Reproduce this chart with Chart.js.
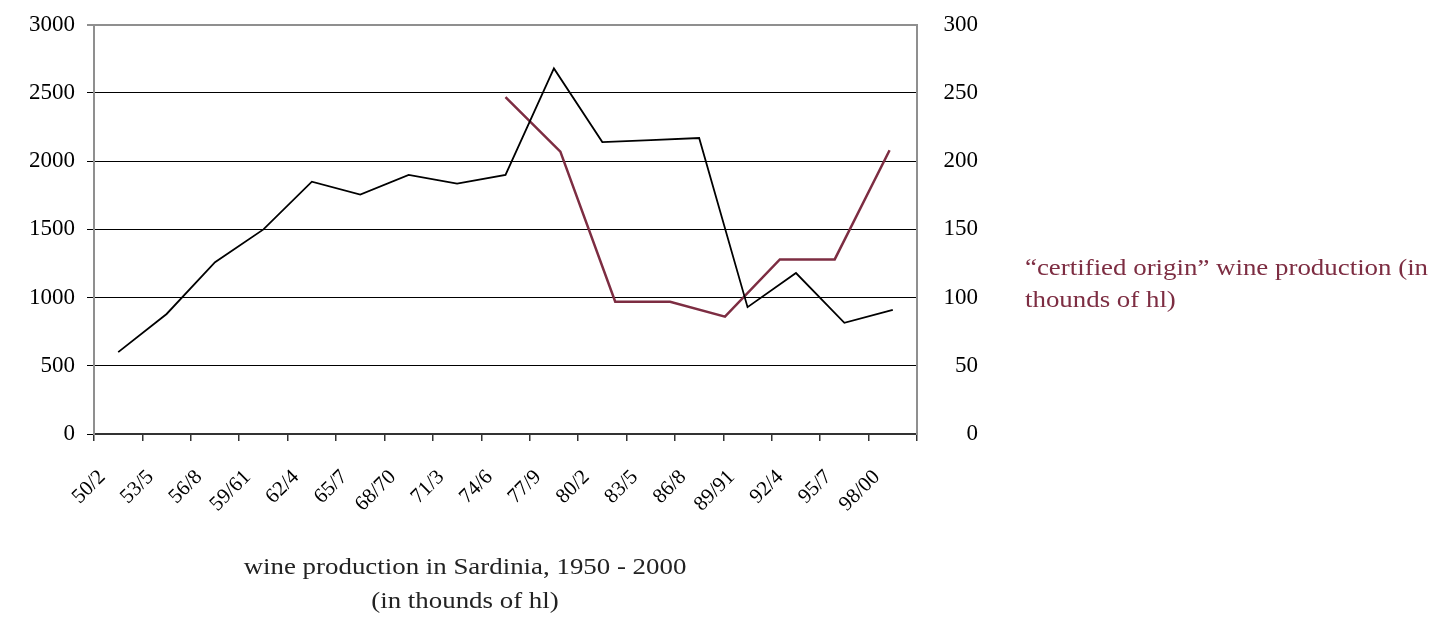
<!DOCTYPE html>
<html>
<head>
<meta charset="utf-8">
<script src="https://cdn.jsdelivr.net/npm/chart.js@4.4.0/dist/chart.umd.min.js"></script>
<style>
  html, body { margin: 0; padding: 0; background: #fff; }
  #wrap { position: relative; width: 1444px; height: 619px; overflow: hidden; }
  #chart { position: absolute; left: 0; top: -15px; }
  .caption { position: absolute; font-family: "Liberation Serif", "DejaVu Serif", serif; font-size: 24px; line-height: 34px; transform: scaleX(1.12); }
  #bottomTitle { left: 165px; top: 549px; width: 600px; text-align: center; color: #222; transform-origin: 300px 0; }
  #sideTitle { left: 1025px; top: 251px; color: #7d2d42; white-space: nowrap; line-height: 32px; transform-origin: 0 0; }
</style>
</head>
<body>
<div id="wrap">
  <canvas id="chart" width="1444" height="634"></canvas>
  <div id="bottomTitle" class="caption">wine production in Sardinia, 1950 - 2000<br>(in thounds of hl)</div>
  <div id="sideTitle" class="caption">“certified origin” wine production (in<br>thounds of hl)</div>
</div>
<script>
// crop years (two-year / three-year periods)
const seasons = ['50/2', '53/5', '56/8', '59/61', '62/4', '65/7', '68/70', '71/3', '74/6',
                 '77/9', '80/2', '83/5', '86/8', '89/91', '92/4', '95/7', '98/00'];
// total wine production, thousands of hl (left axis)
const totalProduction = [600, 880, 1260, 1500, 1850, 1755, 1900, 1835, 1900,
                         2680, 2140, 2155, 2170, 930, 1180, 815, 910];
// "certified origin" production, thousands of hl (right axis, own category axis)
const docSlots = 15;
const docStart = 7;
const certifiedProduction = [247, 207, 97, 97, 86, 128, 128, 208];

const leftTicks = { min: 0, max: 3000, step: 500 };
const rightTicks = { min: 0, max: 300, step: 50 };

const docLabels = Array.from({ length: docSlots }, (_, i) => String(i));
const docData = Array(docStart).fill(null).concat(certifiedProduction);

const tickFont = { family: '"Liberation Serif", serif', size: 23 };
const GRID_GREY = '#8f8f8f';
const plainNumber = (v) => String(v);

new Chart(document.getElementById('chart'), {
  type: 'line',
  data: {
    labels: seasons,
    datasets: [
      {
        label: 'wine production',
        data: totalProduction,
        borderColor: '#000',
        borderWidth: 1.8,
        pointRadius: 0,
        tension: 0,
        xAxisID: 'x',
        yAxisID: 'y'
      },
      {
        label: 'certified origin',
        data: docData,
        borderColor: '#7d2d42',
        borderWidth: 2.5,
        pointRadius: 0,
        tension: 0,
        xAxisID: 'x2',
        yAxisID: 'y2'
      }
    ]
  },
  options: {
    responsive: false,
    animation: false,
    layout: { padding: { top: 10, right: 466, left: 0, bottom: 0 } },
    plugins: { legend: { display: false }, tooltip: { enabled: false } },
    scales: {
      x: {
        type: 'category',
        offset: true,
        grid: { drawOnChartArea: false, drawTicks: true, tickLength: 7, offset: true, color: '#333', lineWidth: 1.5 },
        border: { color: '#333', width: 2 },
        ticks: {
          autoSkip: false, minRotation: 45, maxRotation: 45,
          color: '#000', font: { family: '"Liberation Serif", serif', size: 21 },
          padding: 24, labelOffset: -16
        },
        afterFit: (scale) => { scale.height = 185; }
      },
      x2: {
        type: 'category',
        labels: docLabels,
        offset: true,
        display: false
      },
      y: {
        position: 'left',
        min: leftTicks.min, max: leftTicks.max,
        grid: {
          color: (ctx) => ctx.tick && ctx.tick.value === leftTicks.max ? GRID_GREY : '#000',
          lineWidth: (ctx) => ctx.tick && ctx.tick.value === leftTicks.max ? 2 : 1,
          tickLength: 7
        },
        border: { color: GRID_GREY, width: 2 },
        ticks: { stepSize: leftTicks.step, color: '#000', font: tickFont, padding: 12, callback: plainNumber },
        afterFit: (scale) => { scale.width = 94; }
      },
      y2: {
        position: 'right',
        min: rightTicks.min, max: rightTicks.max,
        grid: { drawOnChartArea: false, drawTicks: false },
        border: { color: GRID_GREY, width: 2 },
        ticks: { stepSize: rightTicks.step, color: '#000', font: tickFont, padding: 26, crossAlign: 'far', callback: plainNumber },
        afterFit: (scale) => { scale.width = 61; }
      }
    }
  }
});
</script>
</body>
</html>
